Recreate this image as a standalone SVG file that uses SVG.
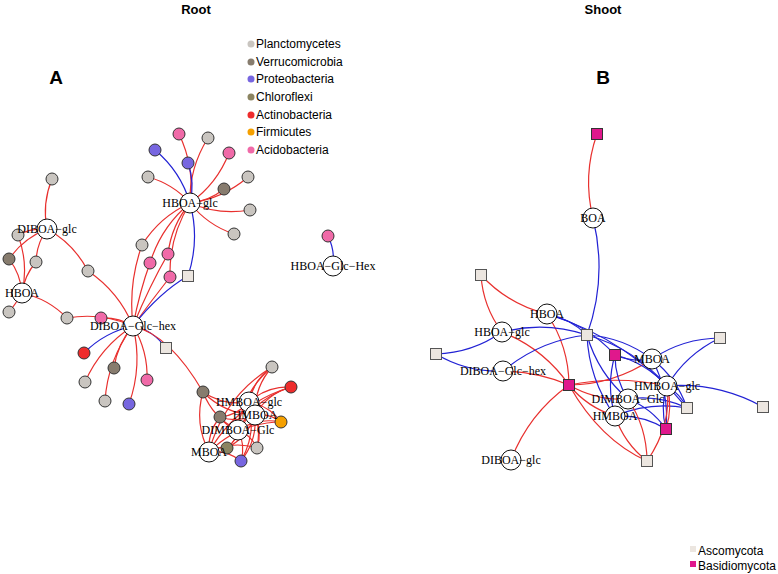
<svg xmlns="http://www.w3.org/2000/svg" width="778" height="574" viewBox="0 0 778 574">
<style>
.t{font-family:"Liberation Sans",Arial,sans-serif;font-weight:bold;fill:#000}
.lg{font-family:"Liberation Sans",Arial,sans-serif;font-size:12px;fill:#000}
.nl{font-family:"Liberation Serif","Times New Roman",serif;font-size:12px;fill:#000;text-anchor:middle}
.r{fill:none;stroke:#e8302e;stroke-width:1.2}
.b{fill:none;stroke:#2222d4;stroke-width:1.2}
.cmp{fill:#fff;stroke:#111;stroke-width:1}
.m{stroke:#333;stroke-width:1}
.pl{fill:#c9c5c0}.ve{fill:#877c6e}.pr{fill:#7766e0}.ch{fill:#8b8461}.ac{fill:#ee2c2c}.fi{fill:#f5a000}.ad{fill:#f06aa8}
.as{fill:#ece6e0;stroke:#555;stroke-width:1}.bs{fill:#e0188c;stroke:#333;stroke-width:1}
</style>
<rect width="778" height="574" fill="#fff"/>
<text class="t" x="196" y="14" font-size="13" text-anchor="middle">Root</text>
<text class="t" x="603" y="14" font-size="13" text-anchor="middle">Shoot</text>
<text class="t" x="56" y="84" font-size="19" text-anchor="middle">A</text>
<text class="t" x="603" y="84" font-size="19" text-anchor="middle">B</text>
<g id="legend-root">
<circle class="pl" cx="251" cy="44" r="3.5"/><text class="lg" x="256" y="48">Planctomycetes</text>
<circle class="ve" cx="251" cy="62" r="3.5"/><text class="lg" x="256" y="66">Verrucomicrobia</text>
<circle class="pr" cx="251" cy="79" r="3.5"/><text class="lg" x="256" y="83">Proteobacteria</text>
<circle class="ch" cx="251" cy="97" r="3.5"/><text class="lg" x="256" y="101">Chloroflexi</text>
<circle class="ac" cx="251" cy="115" r="3.5"/><text class="lg" x="256" y="119">Actinobacteria</text>
<circle class="fi" cx="251" cy="132" r="3.5"/><text class="lg" x="256" y="136">Firmicutes</text>
<circle class="ad" cx="251" cy="150" r="3.5"/><text class="lg" x="256" y="154">Acidobacteria</text>
</g>
<g id="legend-shoot">
<rect x="690" y="546" width="6" height="6" fill="#ece6e0"/><text class="lg" x="698" y="555">Ascomycota</text>
<rect x="690" y="561" width="6" height="6" fill="#e0188c"/><text class="lg" x="698" y="570">Basidiomycota</text>
</g>
<g id="connectors">
<!-- Panel A: HBOA-glc -->
<path class="r" d="M190 203Q194.9 166.9 179 134"/>
<path class="r" d="M190 203Q189 168 208 138"/>
<path class="b" d="M190 203Q180.5 171.3 155 150"/>
<path class="b" d="M190 203Q195 182.7 188 163"/>
<path class="r" d="M190 203Q217 183.9 229 153"/>
<path class="r" d="M190 203Q172.9 183.7 148 177"/>
<path class="r" d="M190 203Q222.9 198.7 248 177"/>
<path class="r" d="M190 203Q209.1 201.1 224 189"/>
<path class="r" d="M190 203Q219 215.5 250 210"/>
<path class="r" d="M190 203Q207.4 225.1 234 234"/>
<path class="r" d="M190 203Q159.7 216.8 142 245"/>
<path class="r" d="M190 203Q161 227 150 263"/>
<path class="r" d="M190 203Q171.4 225.2 168 254"/>
<path class="r" d="M190 203Q168.9 237 170 277"/>
<path class="b" d="M190 203Q200 239.8 188 276"/>
<!-- Panel A: DIBOA-Glc-hex -->
<path class="r" d="M133 326Q128 284 142 245"/>
<path class="r" d="M133 326Q140 290 150 263"/>
<path class="r" d="M133 326Q150 285 168 254"/>
<path class="r" d="M133 326Q152 300 170 277"/>
<path class="b" d="M133 326Q160 292 188 276"/>
<path class="r" d="M133 326Q118.8 291.8 88 271"/>
<path class="r" d="M133 326Q101.2 312.1 67 318"/>
<path class="r" d="M133 326Q118.2 317.2 101 318"/>
<path class="b" d="M133 326Q104.5 332.2 84 353"/>
<path class="b" d="M133 326Q152.8 330 166 348"/>
<path class="r" d="M133 326Q170 335 203 392"/>
<path class="r" d="M133 326Q117.2 344.2 114 368"/>
<path class="r" d="M133 326Q100.6 346.8 85 382"/>
<path class="r" d="M133 326Q148.1 350.9 147 380"/>
<path class="r" d="M133 326Q107.75 359.3 105 401"/>
<path class="r" d="M133 326Q142.7 365.6 129 404"/>
<!-- Panel A: DIBOA-glc -->
<path class="r" d="M47 229Q42 203.3 52 179"/>
<path class="r" d="M47 229Q31.6 227.7 18 235"/>
<path class="r" d="M47 229Q23.5 238.3 9 259"/>
<path class="r" d="M47 229Q36.5 243.9 36 262"/>
<path class="r" d="M47 229Q73.6 243.4 88 271"/>
<!-- Panel A: HBOA -->
<path class="r" d="M22 293Q28.7 263.4 18 235"/>
<path class="r" d="M22 293Q20.6 274 9 259"/>
<path class="r" d="M22 293Q24.4 275.4 36 262"/>
<path class="r" d="M22 293Q15 305 9 312"/>
<path class="r" d="M22 293Q48.25 298.75 67 318"/>
<!-- Panel A: bottom cluster -->
<path class="r" d="M203 392Q224 406.2 249 402"/>
<path class="r" d="M203 392Q224.4 413.9 255 415"/>
<path class="r" d="M203 392Q212.9 418 238 430"/>
<path class="r" d="M203 392Q194 423.2 209 452"/>
<path class="r" d="M220 417Q237.5 415.3 249 402"/>
<path class="r" d="M220 417Q237.9 423 255 415"/>
<path class="r" d="M220 417Q226.4 427.1 238 430"/>
<path class="r" d="M220 417Q207.5 432.3 209 452"/>
<path class="r" d="M272 367Q253.5 379.9 249 402"/>
<path class="r" d="M272 367Q253.9 387.6 255 415"/>
<path class="r" d="M272 367Q242.4 391.7 238 430"/>
<path class="r" d="M272 367Q223.5 396.9 209 452"/>
<path class="r" d="M291 387Q267 386.1 249 402"/>
<path class="r" d="M291 387Q267.4 393.8 255 415"/>
<path class="r" d="M291 387Q255.9 397.9 238 430"/>
<path class="r" d="M291 387Q237 403.1 209 452"/>
<path class="r" d="M281 422Q269 405.6 249 402"/>
<path class="r" d="M281 422Q269.4 413.3 255 415"/>
<path class="r" d="M281 422Q257.9 417.4 238 430"/>
<path class="r" d="M281 422Q239 422.6 209 452"/>
<path class="r" d="M227 448Q247.2 429.4 249 402"/>
<path class="r" d="M227 448Q247.6 437.1 255 415"/>
<path class="r" d="M227 448Q236.1 441.2 238 430"/>
<path class="r" d="M227 448Q217.2 446.4 209 452"/>
<path class="r" d="M257 448Q262.2 423.4 249 402"/>
<path class="r" d="M257 448Q262.6 431.1 255 415"/>
<path class="r" d="M257 448Q251.1 435.2 238 430"/>
<path class="r" d="M257 448Q232.2 440.4 209 452"/>
<path class="r" d="M241 461Q256.8 433.1 249 402"/>
<path class="r" d="M241 461Q257.2 440.8 255 415"/>
<path class="r" d="M241 461Q245.7 444.9 238 430"/>
<path class="r" d="M241 461Q226.8 450.1 209 452"/>
<!-- Panel A: HBOA-Glc-Hex -->
<path class="b" d="M333 266Q335 250.3 328 236"/>
<!-- Panel B -->
<path class="r" d="M593 218Q582.4 175.4 597 134"/>
<path class="b" d="M593 218Q607.6 277.4 587 335"/>
<path class="r" d="M481 275Q508.2 304.4 547 314"/>
<path class="r" d="M481 275Q483 306.7 502 332"/>
<path class="b" d="M547 314Q570 318.5 587 335"/>
<path class="b" d="M547 314Q587.2 324.3 615 355"/>
<path class="b" d="M547 314Q631 340 687 408"/>
<path class="r" d="M547 314Q568.7 346.2 569 385"/>
<path class="b" d="M502 332Q472.3 352.9 436 354"/>
<path class="b" d="M502 332Q545 320.8 587 335"/>
<path class="r" d="M502 332Q543.5 348.5 569 385"/>
<path class="b" d="M503 371Q466.9 372.5 436 354"/>
<path class="b" d="M503 371Q539.6 340.4 587 335"/>
<path class="r" d="M503 371Q538 372 569 385"/>
<path class="r" d="M511 460Q528.75 413.8 569 385"/>
<path class="r" d="M569 385Q614.4 384.5 652 359"/>
<path class="r" d="M569 385Q618 375 667 386"/>
<path class="r" d="M569 385Q596.4 400.9 628 399"/>
<path class="r" d="M569 385Q587.4 407.4 615 416"/>
<path class="r" d="M569 385Q600 440 647 461"/>
<path class="b" d="M587 335Q623.1 337.3 652 359"/>
<path class="b" d="M587 335Q634.7 348.5 667 386"/>
<path class="b" d="M587 335Q597.9 373.2 628 399"/>
<path class="b" d="M587 335Q588.9 379.7 615 416"/>
<path class="b" d="M615 355Q632.9 362.6 652 359"/>
<path class="b" d="M615 355Q645.7 362.7 667 386"/>
<path class="b" d="M615 355Q614.9 379 628 399"/>
<path class="b" d="M615 355Q605.9 385.5 615 416"/>
<path class="b" d="M720 338Q682.9 338.3 652 359"/>
<path class="b" d="M720 338Q686.3 354 667 386"/>
<path class="b" d="M763 407Q718.2 382.1 667 386"/>
<path class="b" d="M687 408Q676.9 378.3 652 359"/>
<path class="b" d="M687 408Q680.3 394 667 386"/>
<path class="b" d="M687 408Q658.9 394.7 628 399"/>
<path class="b" d="M687 408Q649.8 401.2 615 416"/>
<path class="b" d="M666 429Q669.5 391.9 652 359"/>
<path class="r" d="M666 429Q672.95 407.65 667 386"/>
<path class="b" d="M666 429Q660 407.3 667 386"/>
<path class="b" d="M666 429Q651.5 408.3 628 399"/>
<path class="b" d="M666 429Q642.5 414.9 615 416"/>
<path class="r" d="M647 461Q624.2 443.3 615 416"/>
<path class="r" d="M647 461Q646.8 427.2 628 399"/>
<path class="r" d="M647 461Q672 425 667 386"/>
</g>
<!-- Panel A microbes -->
<g id="a-microbes">
<circle id="m1" class="m ad" cx="179" cy="134" r="6"/>
<circle id="m2" class="m pl" cx="208" cy="138" r="6"/>
<circle id="m3" class="m pr" cx="155" cy="150" r="6"/>
<circle id="m4" class="m pr" cx="188" cy="163" r="6"/>
<circle id="m5" class="m ad" cx="229" cy="153" r="6"/>
<circle id="m6" class="m pl" cx="148" cy="177" r="6"/>
<circle id="m7" class="m pl" cx="248" cy="177" r="6"/>
<circle id="m8" class="m ve" cx="224" cy="189" r="6"/>
<circle id="m9" class="m pl" cx="250" cy="210" r="6"/>
<circle id="m10" class="m pl" cx="234" cy="234" r="6"/>
<circle id="m11" class="m pl" cx="142" cy="245" r="6"/>
<circle id="m12" class="m ad" cx="150" cy="263" r="6"/>
<circle id="m13" class="m ad" cx="168" cy="254" r="6"/>
<circle id="m14" class="m ad" cx="170" cy="277" r="6"/>
<rect id="m15" class="as" x="182.5" y="270.5" width="11" height="11"/>
<circle id="m16" class="m pl" cx="52" cy="179" r="6"/>
<circle id="m17" class="m pl" cx="18" cy="235" r="6"/>
<circle id="m18" class="m ve" cx="9" cy="259" r="6"/>
<circle id="m19" class="m pl" cx="36" cy="262" r="6"/>
<circle id="m20" class="m pl" cx="88" cy="271" r="6"/>
<circle id="m21" class="m pl" cx="9" cy="312" r="6"/>
<circle id="m22" class="m pl" cx="67" cy="318" r="6"/>
<circle id="m23" class="m ad" cx="101" cy="318" r="6"/>
<circle id="m24" class="m ac" cx="84" cy="353" r="6"/>
<rect id="m25" class="as" x="160.5" y="342.5" width="11" height="11"/>
<circle id="m26" class="m ve" cx="114" cy="368" r="6"/>
<circle id="m27" class="m pl" cx="85" cy="382" r="6"/>
<circle id="m28" class="m ad" cx="147" cy="380" r="6"/>
<circle id="m29" class="m pl" cx="105" cy="401" r="6"/>
<circle id="m30" class="m pr" cx="129" cy="404" r="6"/>
<circle id="m31" class="m ve" cx="203" cy="392" r="6"/>
<circle id="m32" class="m ve" cx="220" cy="417" r="6"/>
<circle id="m33" class="m pl" cx="272" cy="367" r="6"/>
<circle id="m34" class="m ac" cx="291" cy="387" r="6"/>
<circle id="m35" class="m fi" cx="281" cy="422" r="6"/>
<circle id="m36" class="m ch" cx="227" cy="448" r="6"/>
<circle id="m37" class="m pl" cx="257" cy="448" r="6"/>
<circle id="m38" class="m pr" cx="241" cy="461" r="6"/>
<circle id="m39" class="m ad" cx="328" cy="236" r="6"/>
</g>
<!-- Panel B fungi -->
<g id="b-fungi">
<rect id="f1" class="bs" x="591.5" y="128.5" width="11" height="11"/>
<rect id="f2" class="as" x="475.5" y="269.5" width="11" height="11"/>
<rect id="f3" class="as" x="581.5" y="329.5" width="11" height="11"/>
<rect id="f4" class="as" x="430.5" y="348.5" width="11" height="11"/>
<rect id="f5" class="bs" x="609.5" y="349.5" width="11" height="11"/>
<rect id="f6" class="bs" x="563.5" y="379.5" width="11" height="11"/>
<rect id="f7" class="as" x="714.5" y="332.5" width="11" height="11"/>
<rect id="f8" class="as" x="681.5" y="402.5" width="11" height="11"/>
<rect id="f9" class="as" x="757.5" y="401.5" width="11" height="11"/>
<rect id="f10" class="bs" x="660.5" y="423.5" width="11" height="11"/>
<rect id="f11" class="as" x="641.5" y="455.5" width="11" height="11"/>
</g>
<!-- Compounds -->
<g id="a-HBOA-glc"><circle class="cmp" cx="190" cy="203" r="10"/><text class="nl" x="190" y="207">HBOA−glc</text></g>
<g id="a-DIBOA-glc"><circle class="cmp" cx="47" cy="229" r="10"/><text class="nl" x="47" y="233">DIBOA−glc</text></g>
<g id="a-HBOA"><circle class="cmp" cx="22" cy="293" r="10"/><text class="nl" x="22" y="297">HBOA</text></g>
<g id="a-DIBOA-Glc-hex"><circle class="cmp" cx="133" cy="326" r="10"/><text class="nl" x="133" y="330">DIBOA−Glc−hex</text></g>
<g id="a-HBOA-Glc-Hex"><circle class="cmp" cx="333" cy="266" r="10"/><text class="nl" x="333" y="270">HBOA−Glc−Hex</text></g>
<g id="a-HMBOA-glc"><circle class="cmp" cx="249" cy="402" r="10"/><text class="nl" x="249" y="406">HMBOA−glc</text></g>
<g id="a-HMBOA"><circle class="cmp" cx="255" cy="415" r="10"/><text class="nl" x="255" y="419">HMBOA</text></g>
<g id="a-DIMBOA-Glc"><circle class="cmp" cx="238" cy="430" r="10"/><text class="nl" x="238" y="434">DIMBOA−Glc</text></g>
<g id="a-MBOA"><circle class="cmp" cx="209" cy="452" r="10"/><text class="nl" x="209" y="456">MBOA</text></g>
<g id="b-BOA"><circle class="cmp" cx="593" cy="218" r="10"/><text class="nl" x="593" y="222">BOA</text></g>
<g id="b-HBOA"><circle class="cmp" cx="547" cy="314" r="10"/><text class="nl" x="547" y="318">HBOA</text></g>
<g id="b-HBOA-glc"><circle class="cmp" cx="502" cy="332" r="10"/><text class="nl" x="502" y="336">HBOA−glc</text></g>
<g id="b-DIBOA-Glc-hex"><circle class="cmp" cx="503" cy="371" r="10"/><text class="nl" x="503" y="375">DIBOA−Glc−hex</text></g>
<g id="b-MBOA"><circle class="cmp" cx="652" cy="359" r="10"/><text class="nl" x="652" y="363">MBOA</text></g>
<g id="b-HMBOA-glc"><circle class="cmp" cx="667" cy="386" r="10"/><text class="nl" x="667" y="390">HMBOA−glc</text></g>
<g id="b-DIMBOA-Glc"><circle class="cmp" cx="628" cy="399" r="10"/><text class="nl" x="628" y="403">DIMBOA−Glc</text></g>
<g id="b-HMBOA"><circle class="cmp" cx="615" cy="416" r="10"/><text class="nl" x="615" y="420">HMBOA</text></g>
<g id="b-DIBOA-glc"><circle class="cmp" cx="511" cy="460" r="10"/><text class="nl" x="511" y="464">DIBOA−glc</text></g>
</svg>
